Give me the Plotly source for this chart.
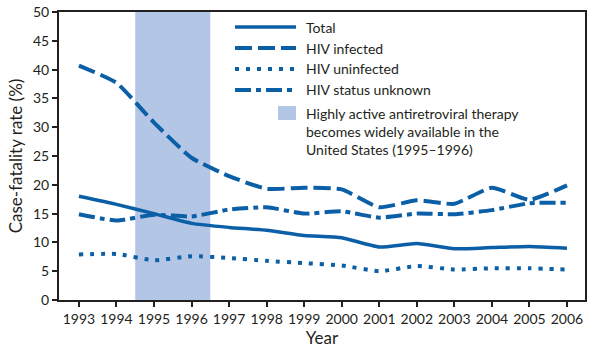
import plotly.graph_objects as go

years = [1993, 1994, 1995, 1996, 1997, 1998, 1999, 2000, 2001, 2002, 2003, 2004, 2005, 2006]
total = [18.0, 16.6, 15.0, 13.3, 12.6, 12.1, 11.2, 10.8, 9.2, 9.8, 8.9, 9.1, 9.3, 9.0]
hiv_infected = [40.7, 37.7, 30.8, 24.7, 21.5, 19.3, 19.5, 19.2, 16.1, 17.3, 16.7, 19.5, 17.4, 19.9]
hiv_uninfected = [7.9, 8.0, 6.9, 7.6, 7.3, 6.8, 6.4, 6.0, 5.0, 5.9, 5.3, 5.5, 5.5, 5.3]
hiv_unknown = [14.9, 13.8, 14.8, 14.5, 15.7, 16.1, 15.0, 15.4, 14.3, 15.0, 14.9, 15.6, 16.8, 16.9]
haart_period = [1994.5, 1996.5]
haart_label = "Highly active antiretroviral therapy<br>becomes widely available in the<br>United States (1995–1996)"

series = [
    ("Total", total, "solid", 3.5),
    ("HIV infected", hiv_infected, "17px,6px", 4),
    ("HIV uninfected", hiv_uninfected, "4px,7px", 4),
    ("HIV status unknown", hiv_unknown, "16px,5px,5px,5px", 4),
]

BLUE = "#0b5fa6"
SHADE = "#b4c6e6"
FONT = "Lato"
TXT = "#231f20"

fig = go.Figure()
for name, vals, dash, w in series:
    fig.add_trace(go.Scatter(x=years, y=vals, mode="lines", name=name,
                             line=dict(color=BLUE, width=w, dash=dash, shape="spline", smoothing=0.5),
                             showlegend=False))

fig.add_vrect(x0=haart_period[0], x1=haart_period[1], fillcolor=SHADE, line_width=0, layer="below")

# manual legend (paper coords)
W, H = 606, 354
L, R, T, B = 59, 21, 12, 54
pw, ph = W - L - R, H - T - B

def px(x):
    return (x - L) / pw

def py(y):
    return 1 - (y - T) / ph

rows = [27, 48, 69, 90]
for (name, vals, dash, w), yy in zip(series, rows):
    fig.add_shape(type="line", xref="paper", yref="paper",
                  x0=px(235), x1=px(296), y0=py(yy), y1=py(yy),
                  line=dict(color=BLUE, width=w, dash=dash))
    fig.add_annotation(xref="paper", yref="paper", x=px(304), y=py(yy), text=name,
                       showarrow=False, xanchor="left", yanchor="middle",
                       font=dict(family=FONT, size=14, color=TXT))
fig.add_shape(type="rect", xref="paper", yref="paper",
              x0=px(278), x1=px(296), y0=py(120), y1=py(106),
              fillcolor=SHADE, line_width=0)
fig.add_annotation(xref="paper", yref="paper", x=px(304), y=py(103), text=haart_label,
                   showarrow=False, xanchor="left", yanchor="top", align="left",
                   font=dict(family=FONT, size=14, color=TXT))

fig.update_layout(
    width=W, height=H,
    margin=dict(l=L, r=R, t=T, b=B, autoexpand=False),
    paper_bgcolor="white", plot_bgcolor="white",
    font=dict(family=FONT, size=14, color=TXT),
    xaxis=dict(range=[1992.47, 2006.48], tickvals=years, ticks="outside", ticklen=5,
               tickwidth=1.5, tickcolor=TXT, automargin=False,
               showline=True, linecolor=TXT, linewidth=2, mirror=True,
               showgrid=False, zeroline=False,
               title=dict(text="Year", font=dict(size=17), standoff=6)),
    yaxis=dict(range=[0, 50], dtick=5, ticks="outside", ticklen=5,
               tickwidth=1.5, tickcolor=TXT, automargin=False,
               showline=True, linecolor=TXT, linewidth=2, mirror=True,
               showgrid=False, zeroline=False,
               title=dict(text="Case-fatality rate (%)", font=dict(size=17), standoff=6)),
)

fig.write_html("out.html")
